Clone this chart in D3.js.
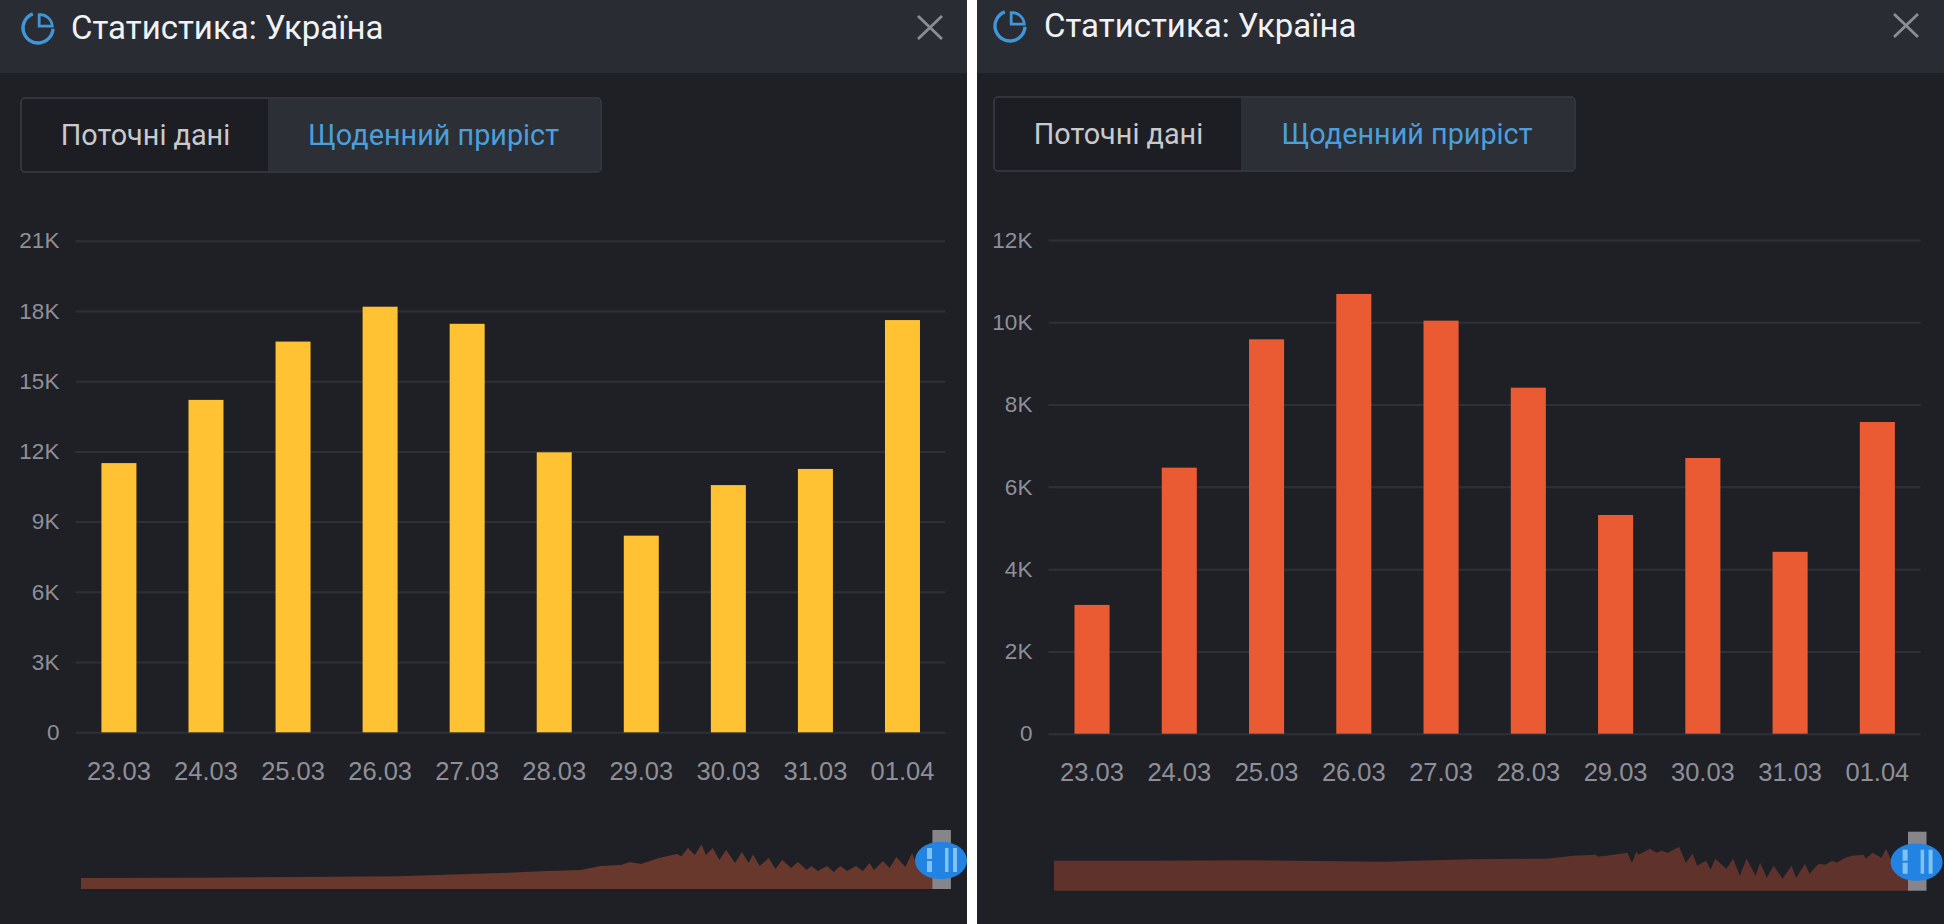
<!DOCTYPE html>
<html lang="uk">
<head>
<meta charset="utf-8">
<script src="https://cdn.jsdelivr.net/npm/d3@7"></script>
<style>
html,body{margin:0;padding:0;background:#fff;overflow:hidden}
svg{display:block;font-family:Roboto,sans-serif}
.grid .domain{display:none}
.grid line{stroke:#2e3037;stroke-width:2}
.grid text{fill:#8e8f98;font-size:22.5px}
.xa .domain{display:none}
.xa line{display:none}
.xa text{fill:#8e8f98;font-size:25.5px}
</style>
</head>
<body>
<svg id="chart" width="1944" height="924"></svg>
<script>
const title = "Статистика: Україна";
const tabCurrent = "Поточні дані";
const tabDaily = "Щоденний приріст";
const dates = ["23.03","24.03","25.03","26.03","27.03","28.03","29.03","30.03","31.03","01.04"];

const casesValues = [11500,14200,16690,18180,17450,11960,8400,10560,11250,17610];
const casesTicks = [0,3000,6000,9000,12000,15000,18000,21000];
const recoveredValues = [3130,6466,9586,10688,10040,8410,5316,6701,4421,7576];
const recoveredTicks = [0,2000,4000,6000,8000,10000,12000];

const miniCasesDays = [0,53,98,142,187,205,223,232,241,245,250,258,266,268,271,274,277,279,282,285,288,292,295,298,300,303,307,310,313,317,320,324,326,329,333,336,339,342,346,349,352,354,358,361,364,368,371,373,377,382];
const miniCasesValues = [0,200,600,1000,2800,3800,4500,6800,7400,9100,8000,11400,13700,12400,17000,13100,19000,13100,17000,10200,15900,8500,14800,8500,13400,6800,11400,5100,10200,5700,9100,4500,6800,4000,6800,3400,6800,4000,6800,4000,8500,4500,9700,5700,12000,6300,14200,7400,16000,17600];
const miniRecoveredDays = [0,43,87,146,185,219,231,241,242,252,255,257,259,260,265,268,270,273,278,281,284,286,290,292,294,299,302,305,308,312,314,317,320,324,328,330,334,336,340,343,346,348,352,355,360,361,364,368,370,372,376,382];
const miniRecoveredValues = [30,30,30.5,29,31.5,32,35,36,34,37,38,28,39,36,42,38,40,38,44,28,37,25,30,21,32,22,32,15,32,15,28,13,25,12,25,13,27,17,27,26,30,28,33,35,36,32,38,33,42,32,36,38];

const svg = d3.select("#chart");
const fmt = v => v === 0 ? "0" : (v/1000) + "K";

function panel(c){
  const g = svg.append("g");
  g.append("rect").attr("x",c.x0).attr("y",0).attr("width",c.x1-c.x0).attr("height",924).attr("fill","#1f2026");
  g.append("rect").attr("x",c.x0).attr("y",0).attr("width",c.x1-c.x0).attr("height",73).attr("fill","#2a2c33");

  // header icon
  const ic = g.append("g").attr("transform",`translate(${c.icon[0]},${c.icon[1]})`)
    .attr("fill","none").attr("stroke","#3f97d9").attr("stroke-width",3.4);
  ic.append("path").attr("d",d3.arc()({innerRadius:15,outerRadius:15,startAngle:Math.PI/2+0.05,endAngle:2*Math.PI-0.35}));
  ic.append("path").attr("d","M-1 -15 A15 15 0 0 1 15 -1 L-1 -1 Z").attr("transform","translate(2,-1) scale(.82)");

  g.append("text").attr("x",c.titleX).attr("y",c.titleY).attr("fill","#f1f2f4").attr("font-size",33).text(title);

  // close cross
  g.append("path").attr("d",`M${c.cross[0]} ${c.cross[1]} l24 23 M${c.cross[0]+24} ${c.cross[1]} l-24 23`)
    .attr("stroke","#8b8d94").attr("stroke-width",2.8).attr("fill","none");

  // tabs
  const t = c.tab;
  g.append("rect").attr("x",t.x).attr("y",t.y).attr("width",t.w).attr("height",t.h).attr("rx",4).attr("fill","#1d1e24").attr("stroke","#3b3d45").attr("stroke-width",1.5);
  g.append("path").attr("d",`M${t.d} ${t.y+1}H${t.x+t.w-4}a3 3 0 0 1 3 3V${t.y+t.h-4}a3 3 0 0 1 -3 3H${t.d}Z`).attr("fill","#2d2f36");
  g.append("text").attr("x",(t.x+t.d)/2+1).attr("y",t.y+47).attr("text-anchor","middle").attr("fill","#c9cacd").attr("font-size",28.8).text(tabCurrent);
  g.append("text").attr("x",(t.d+t.x+t.w)/2-1).attr("y",t.y+47).attr("text-anchor","middle").attr("fill","#4a9fdc").attr("font-size",28.8).text(tabDaily);

  // scales
  const x = d3.scaleBand().domain(dates).range([c.left,c.right]).padding(0);
  const y = d3.scaleLinear().domain([0,d3.max(c.ticks)]).range([c.y0,c.yTop]);

  g.append("g").attr("class","grid").attr("transform",`translate(${c.left},0)`)
    .call(d3.axisLeft(y).tickValues(c.ticks).tickFormat(fmt).tickSize(-(c.gridRight-c.left)).tickPadding(16));

  const bw = x.bandwidth()*0.402;
  g.append("g").selectAll("rect").data(c.values).join("rect")
    .attr("x",(d,i)=>x(dates[i])+x.bandwidth()/2-bw/2)
    .attr("y",d=>y(d)).attr("width",bw).attr("height",d=>c.y0-y(d)).attr("fill",c.color);

  g.append("g").attr("class","xa").attr("transform",`translate(0,${c.y0+23})`)
    .call(d3.axisBottom(x).tickSize(0).tickPadding(0))
    .selectAll("text").attr("dy","0.95em");

  // overview strip
  const mx = d3.scaleLinear().domain([0,382]).range([c.miniX0,c.miniX1]);
  const my = d3.scaleLinear().domain(c.miniDomain).range([c.miniBase,c.miniTop]);
  const area = d3.area().x(d=>mx(d[0])).y0(c.miniBase).y1(d=>my(d[1]));
  g.append("path").datum(d3.zip(c.miniDays,c.miniValues)).attr("d",area).attr("fill",c.miniColor);

  // slider handle
  const hx = c.handleX;
  g.append("rect").attr("x",hx).attr("y",c.miniBase-59).attr("width",18.5).attr("height",59).attr("fill","#85858a");
  const clipId = "clip"+c.x0;
  g.append("clipPath").attr("id",clipId).append("rect").attr("x",c.x0).attr("y",0).attr("width",c.x1-c.x0).attr("height",924);
  const hg = g.append("g").attr("clip-path",`url(#${clipId})`);
  hg.append("rect").attr("x",hx-17.4).attr("y",c.miniBase-47).attr("width",52).attr("height",37).attr("rx",24).attr("ry",18.5).attr("fill","#2283e2");
  [[-5.4,5,-41,11],[-5.4,5,-28,11],[12.6,3.5,-41,24],[20.6,4,-41,24]].forEach(b=>{
    hg.append("rect").attr("x",hx+b[0]).attr("y",c.miniBase+b[2]).attr("width",b[1]).attr("height",b[3]).attr("fill","#7fc3f3");
  });
}

panel({x0:0,x1:967,icon:[38,28],titleX:71,titleY:39,cross:[918,16],
  tab:{x:21,y:98,w:580,h:74,d:268},
  left:75.4,right:946,gridRight:945.4,y0:732.3,yTop:240.7,ticks:casesTicks,values:casesValues,color:"#ffc233",
  miniX0:81,miniX1:936.7,handleX:932.4,miniBase:889,miniTop:844.6,miniDomain:[-6260,19000],miniDays:miniCasesDays,miniValues:miniCasesValues,miniColor:"#69382d"});
panel({x0:977,x1:1944,icon:[1010,26],titleX:1044,titleY:37,cross:[1894,14],
  tab:{x:994,y:97,w:581,h:74,d:1241},
  left:1048.4,right:1921,gridRight:1920.6,y0:733.7,yTop:240,ticks:recoveredTicks,values:recoveredValues,color:"#ea5a33",
  miniX0:1054,miniX1:1913,handleX:1908,miniBase:890.7,miniTop:845.7,miniDomain:[0,45],miniDays:miniRecoveredDays,miniValues:miniRecoveredValues,miniColor:"#5f332c"});
</script>
</body>
</html>
